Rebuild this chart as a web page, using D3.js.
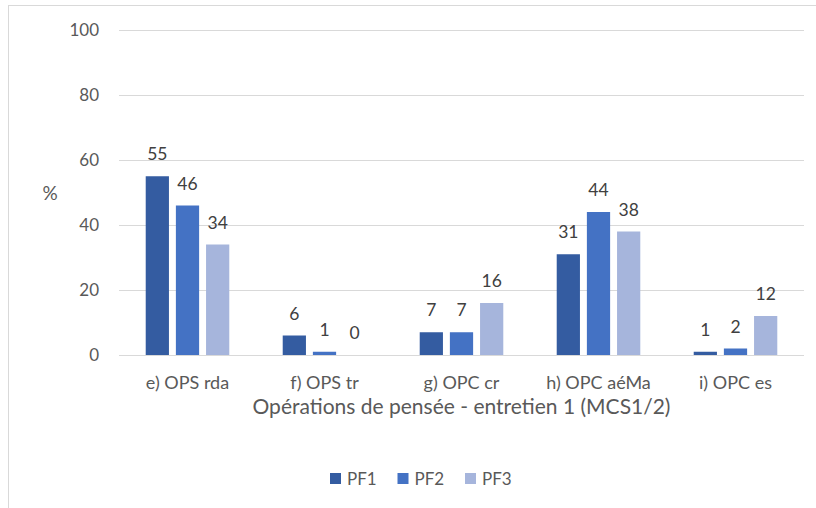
<!DOCTYPE html>
<html>
<head>
<meta charset="utf-8">
<script src="https://cdn.jsdelivr.net/npm/d3@7"></script>
<style>
  body { margin: 0; background: #fff; }
  svg text { font-family: Lato, "Open Sans", sans-serif; }
</style>
</head>
<body>
<div id="chart"></div>
<script>
// Data
const categories = ["e) OPS rda", "f) OPS tr", "g) OPC cr", "h) OPC aéMa", "i) OPC es"];
const seriesNames = ["PF1", "PF2", "PF3"];
const pf1 = [55, 6, 7, 31, 1];
const pf2 = [46, 1, 7, 44, 2];
const pf3 = [34, 0, 16, 38, 12];
const yTicks = [0, 20, 40, 60, 80, 100];

const seriesValues = [pf1, pf2, pf3];
const data = [];
categories.forEach((c, i) => {
  seriesNames.forEach((s, j) => {
    data.push({cat: c, series: s, value: seriesValues[j][i]});
  });
});

const W = 816, H = 508;
const plot = {left: 119, right: 804, top: 30, bottom: 355};

const svg = d3.select("#chart")
  .append("svg")
  .attr("width", W)
  .attr("height", H);

// outer frame (only top and left edges fall inside the picture)
svg.append("rect")
  .attr("x", 8.5)
  .attr("y", 5.5)
  .attr("width", 830)
  .attr("height", 530)
  .attr("fill", "#fff")
  .attr("stroke", "#d9d9d9")
  .attr("stroke-width", 1);

// scales
const x0 = d3.scaleBand()
  .domain(categories)
  .range([plot.left, plot.right])
  .paddingInner(0.39)
  .paddingOuter(0.195);

const x1 = d3.scaleBand()
  .domain(seriesNames)
  .range([0, x0.bandwidth()])
  .paddingInner(0.23)
  .paddingOuter(0);

const y = d3.scaleLinear()
  .domain([0, 100])
  .range([plot.bottom, plot.top]);

const color = d3.scaleOrdinal()
  .domain(seriesNames)
  .range(["#345ca1", "#4472c4", "#a6b5dc"]);

// y axis with gridlines
const yAxis = svg.append("g")
  .attr("transform", `translate(${plot.left},0)`)
  .call(d3.axisLeft(y)
    .tickValues(yTicks)
    .tickSize(-(plot.right - plot.left))
    .tickPadding(20));

yAxis.select(".domain").remove();
yAxis.selectAll("line")
  .attr("stroke", "#d9d9d9")
  .attr("stroke-width", 1);
yAxis.selectAll("text")
  .attr("fill", "#595959")
  .style("font-size", "17px")
  .style("font-family", "Lato, sans-serif");

// bars
svg.selectAll("rect.bar")
  .data(data)
  .enter()
  .append("rect")
  .attr("class", "bar")
  .attr("x", d => x0(d.cat) + x1(d.series))
  .attr("y", d => y(d.value))
  .attr("width", x1.bandwidth())
  .attr("height", d => y(0) - y(d.value))
  .attr("fill", d => color(d.series));

// value labels
svg.selectAll("text.val")
  .data(data)
  .enter()
  .append("text")
  .attr("class", "val")
  .attr("x", d => x0(d.cat) + x1(d.series) + x1.bandwidth() / 2)
  .attr("y", d => y(d.value) - 16)
  .attr("text-anchor", "middle")
  .attr("fill", "#404040")
  .style("font-size", "17.5px")
  .text(d => d.value);

// category labels
svg.selectAll("text.cat")
  .data(categories)
  .enter()
  .append("text")
  .attr("class", "cat")
  .attr("x", d => x0(d) + x0.bandwidth() / 2)
  .attr("y", 389)
  .attr("text-anchor", "middle")
  .attr("fill", "#595959")
  .style("font-size", "18px")
  .text(d => d);

// x axis title
svg.append("text")
  .attr("x", (plot.left + plot.right) / 2)
  .attr("y", 414)
  .attr("text-anchor", "middle")
  .attr("fill", "#595959")
  .style("font-size", "21px")
  .text("Opérations de pensée - entretien 1 (MCS1/2)");

// y axis title
svg.append("text")
  .attr("x", 50)
  .attr("y", 200)
  .attr("text-anchor", "middle")
  .attr("fill", "#595959")
  .style("font-size", "19px")
  .text("%");

// legend
const legendX = [330, 397.5, 465];
const legend = svg.append("g");
seriesNames.forEach((s, i) => {
  legend.append("rect")
    .attr("x", legendX[i])
    .attr("y", 473)
    .attr("width", 11)
    .attr("height", 11)
    .attr("fill", color(s));

  legend.append("text")
    .attr("x", legendX[i] + 17)
    .attr("y", 484.5)
    .attr("fill", "#595959")
    .style("font-size", "17px")
    .text(s);
});
</script>
</body>
</html>
